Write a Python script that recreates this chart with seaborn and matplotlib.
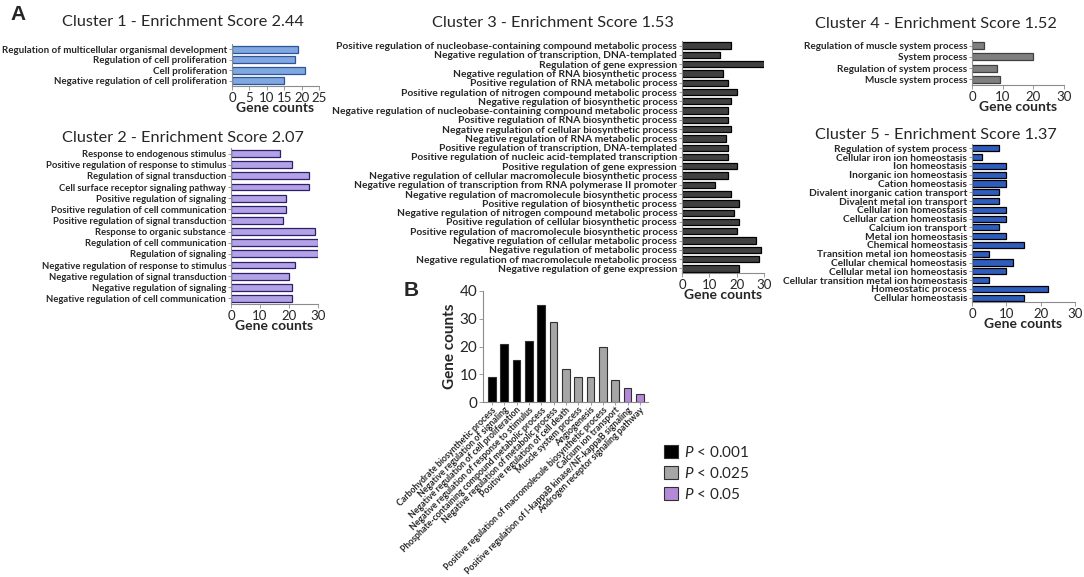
import numpy as np
import pandas as pd
import matplotlib
matplotlib.use("Agg")
import matplotlib.pyplot as plt
from matplotlib.patches import Patch
import seaborn as sns

# ── Data ─────────────────────────────────────────────────────────────────────
c1_terms = ["Regulation of multicellular organismal development",
            "Regulation of cell proliferation",
            "Cell proliferation",
            "Negative regulation of cell proliferation"]
c1_counts = [19, 18, 21, 15]

c2_terms = ["Response to endogenous stimulus",
            "Positive regulation of response to stimulus",
            "Regulation of signal transduction",
            "Cell surface receptor signaling pathway",
            "Positive regulation of signaling",
            "Positive regulation of cell communication",
            "Positive regulation of signal transduction",
            "Response to organic substance",
            "Regulation of cell communication",
            "Regulation of signaling",
            "Negative regulation of response to stimulus",
            "Negative regulation of signal transduction",
            "Negative regulation of signaling",
            "Negative regulation of cell communication"]
c2_counts = [17, 21, 27, 27, 19, 19, 18, 29, 30, 30, 22, 20, 21, 21]

c3_terms = ["Positive regulation of nucleobase-containing compound metabolic process",
            "Negative regulation of transcription, DNA-templated",
            "Regulation of gene expression",
            "Negative regulation of RNA biosynthetic process",
            "Positive regulation of RNA metabolic process",
            "Positive regulation of nitrogen compound metabolic process",
            "Negative regulation of biosynthetic process",
            "Negative regulation of nucleobase-containing compound metabolic process",
            "Positive regulation of RNA biosynthetic process",
            "Negative regulation of cellular biosynthetic process",
            "Negative regulation of RNA metabolic process",
            "Positive regulation of transcription, DNA-templated",
            "Positive regulation of nucleic acid-templated transcription",
            "Positive regulation of gene expression",
            "Negative regulation of cellular macromolecule biosynthetic process",
            "Negative regulation of transcription from RNA polymerase II promoter",
            "Negative regulation of macromolecule biosynthetic process",
            "Positive regulation of biosynthetic process",
            "Negative regulation of nitrogen compound metabolic process",
            "Positive regulation of cellular biosynthetic process",
            "Positive regulation of macromolecule biosynthetic process",
            "Negative regulation of cellular metabolic process",
            "Negative regulation of metabolic process",
            "Negative regulation of macromolecule metabolic process",
            "Negative regulation of gene expression"]
c3_counts = [18, 14, 30, 15, 17, 20, 18, 17, 17, 18, 16, 17, 17, 20, 17,
             12, 18, 21, 19, 21, 20, 27, 29, 28, 21]

c4_terms = ["Regulation of muscle system process",
            "System process",
            "Regulation of system process",
            "Muscle system process"]
c4_counts = [4, 20, 8, 9]

c5_terms = ["Regulation of system process",
            "Cellular iron ion homeostasis",
            "Ion homeostasis",
            "Inorganic ion homeostasis",
            "Cation homeostasis",
            "Divalent inorganic cation transport",
            "Divalent metal ion transport",
            "Cellular ion homeostasis",
            "Cellular cation homeostasis",
            "Calcium ion transport",
            "Metal ion homeostasis",
            "Chemical homeostasis",
            "Transition metal ion homeostasis",
            "Cellular chemical homeostasis",
            "Cellular metal ion homeostasis",
            "Cellular transition metal ion homeostasis",
            "Homeostatic process",
            "Cellular homeostasis"]
c5_counts = [8, 3, 10, 10, 10, 8, 8, 10, 10, 8, 10, 15, 5, 12, 10, 5, 22, 15]

b_terms = ["Carbohydrate biosynthetic process",
           "Negative regulation of signaling",
           "Negative regulation of cell proliferation",
           "Negative regulation of response to stimulus",
           "Phosphate-containing compound metabolic process",
           "Negative regulation of metabolic process",
           "Positive regulation of cell death",
           "Muscle system process",
           "Angiogenesis",
           "Positive regulation of macromolecule biosynthetic process",
           "Calcium ion transport",
           "Positive regulation of I-kappaB kinase/NF-kappaB signaling",
           "Androgen receptor signaling pathway"]
b_counts = [9, 21, 15, 22, 35, 29, 12, 9, 9, 20, 8, 5, 3]
b_sig = ["P < 0.001"] * 5 + ["P < 0.025"] * 6 + ["P < 0.05"] * 2
sig_levels = ["P < 0.001", "P < 0.025", "P < 0.05"]
sig_colors = {"P < 0.001": "#000000", "P < 0.025": "#A6A6A6", "P < 0.05": "#B48AD8"}

# ── Style ────────────────────────────────────────────────────────────────────
sns.set_style("white")
LABEL_FONT = ["Liberation Sans Narrow", "Lato", "DejaVu Sans"]
TEXT_FONT = ["Lato", "DejaVu Sans"]
plt.rcParams["font.family"] = TEXT_FONT
plt.rcParams["mathtext.fontset"] = "custom"
plt.rcParams["mathtext.it"] = "Lato:italic"
plt.rcParams["mathtext.rm"] = "Lato"

W, H = 1084, 577
fig = plt.figure(figsize=(W / 100, H / 100), dpi=100)
fig.patch.set_facecolor("white")


def px_axes(x0, y0, x1, y1):
    return fig.add_axes([x0 / W, 1 - y1 / H, (x1 - x0) / W, (y1 - y0) / H])


def hbar_panel(rect, terms, counts, xmax, xticks, face, edge, title, title_xy,
               label_size=7.4, bar_h=0.62):
    ax = px_axes(*rect)
    df = pd.DataFrame({"term": terms, "count": counts})
    sns.barplot(data=df, x="count", y="term", orient="h", color=face,
                saturation=1, edgecolor=edge, linewidth=0.9, width=bar_h, ax=ax)
    ax.set_xlim(0, xmax)
    ax.set_xticks(xticks)
    for s in ["top", "right"]:
        ax.spines[s].set_visible(False)
    for s in ["left", "bottom"]:
        ax.spines[s].set_color("#8C8C8C")
        ax.spines[s].set_linewidth(0.8)
    ax.tick_params(axis="y", length=2.5, width=0.6, color="#8C8C8C", pad=1,
                   left=True)
    ax.tick_params(axis="x", length=3, width=0.6, color="#8C8C8C", pad=1,
                   bottom=True, labelsize=9.5)
    for t in ax.get_yticklabels():
        t.set_fontfamily(LABEL_FONT)
        t.set_fontweight("bold")
        t.set_fontsize(label_size)
    ax.set_ylabel("")
    ax.set_xlabel("Gene counts", fontsize=10, fontweight="bold", labelpad=-1)
    fig.text(title_xy[0] / W, 1 - title_xy[1] / H, title, ha="center",
             va="center", fontsize=11.7, family=TEXT_FONT)
    return ax


hbar_panel((232, 44, 319, 86), c1_terms, c1_counts, 25, [0, 5, 10, 15, 20, 25],
           "#7FA7E1", "#2F5597", "Cluster 1 - Enrichment Score 2.44", (183, 22),
           label_size=7.0)
hbar_panel((231, 148, 318, 304), c2_terms, c2_counts, 30, [0, 10, 20, 30],
           "#B3A2E8", "#2E1F66", "Cluster 2 - Enrichment Score 2.07", (183, 138),
           label_size=6.85)
hbar_panel((682, 41, 764, 273), c3_terms, c3_counts, 30, [0, 10, 20, 30],
           "#404040", "#000000", "Cluster 3 - Enrichment Score 1.53", (553, 23),
           label_size=7.4, bar_h=0.68)
hbar_panel((972, 40, 1064, 85), c4_terms, c4_counts, 30, [0, 10, 20, 30],
           "#7F7F7F", "#404040", "Cluster 4 - Enrichment Score 1.52", (936, 24),
           label_size=7.2)
hbar_panel((972, 144, 1075, 302), c5_terms, c5_counts, 30, [0, 10, 20, 30],
           "#2E5DBE", "#000000", "Cluster 5 - Enrichment Score 1.37", (936, 135),
           label_size=7.3, bar_h=0.7)

# ── Panel B ──────────────────────────────────────────────────────────────────
axb = px_axes(483, 291, 648, 402)
dfb = pd.DataFrame({"term": b_terms, "count": b_counts, "sig": b_sig})
sns.barplot(data=dfb, x="term", y="count", hue="sig", hue_order=sig_levels,
            palette=sig_colors, dodge=False, saturation=1, edgecolor="#303030",
            linewidth=0.8, width=0.62, legend=False, ax=axb)
axb.set_xlim(-0.72, 12.65)
axb.set_ylim(0, 40)
axb.set_yticks([0, 10, 20, 30, 40])
for s in ["top", "right"]:
    axb.spines[s].set_visible(False)
for s in ["left", "bottom"]:
    axb.spines[s].set_color("#8C8C8C")
    axb.spines[s].set_linewidth(0.8)
axb.tick_params(axis="y", length=3, width=0.6, color="#8C8C8C", pad=1,
                left=True, labelsize=11)
axb.tick_params(axis="x", length=2.5, width=0.6, color="#8C8C8C", pad=0,
                bottom=True)
axb.set_xticks(range(len(b_terms)))
axb.set_xticklabels(b_terms, rotation=45, ha="right", rotation_mode="anchor",
                    fontsize=6.3, fontweight="bold", family=LABEL_FONT)
axb.set_xlabel("")
axb.set_ylabel("Gene counts", fontsize=11, fontweight="bold", labelpad=2)

handles = [Patch(facecolor=sig_colors[k], edgecolor="#303030", linewidth=0.8)
           for k in sig_levels]
labels = [r"$P$ < 0.001", r"$P$ < 0.025", r"$P$ < 0.05"]
fig.legend(handles, labels, loc="upper left",
           bbox_to_anchor=(650 / W, 1 - 431 / H), frameon=False, fontsize=11,
           handlelength=0.9, handleheight=0.9, handletextpad=0.4,
           labelspacing=0.4)

# ── Panel letters ────────────────────────────────────────────────────────────
fig.text(18 / W, 1 - 15 / H, "A", fontsize=15, fontweight="bold",
         family="Liberation Sans", ha="center", va="center")
fig.text(411 / W, 1 - 290 / H, "B", fontsize=15, fontweight="bold",
         family="Liberation Sans", ha="center", va="center")

fig.savefig("out.png", dpi=100, facecolor="white")
